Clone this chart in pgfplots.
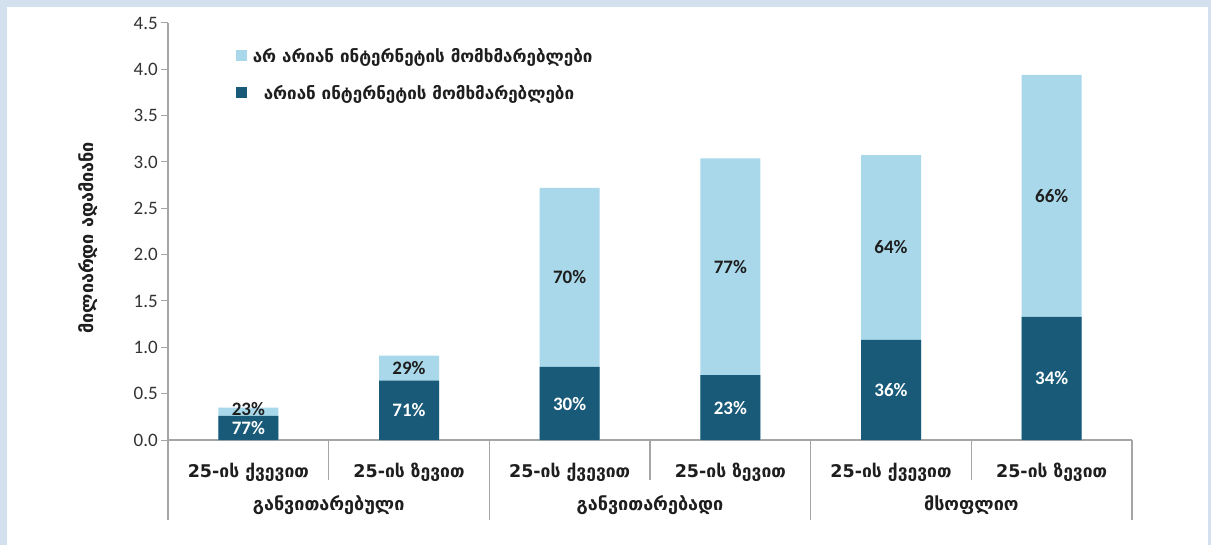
\documentclass[border=0pt]{standalone}
\usepackage{pgfplots}
\pgfplotsset{compat=1.18}
\usepackage{fontspec}
\setmainfont{Carlito}
\newfontfamily\geo{DejaVu Sans}
\definecolor{bgblue}{RGB}{211,224,238}
\definecolor{lightbar}{RGB}{168,216,234}
\definecolor{darkbar}{RGB}{24,90,120}
\definecolor{axisgrey}{RGB}{165,165,165}
\definecolor{txt}{RGB}{30,30,30}
\begin{document}
\begin{tikzpicture}
\fill[bgblue] (0,0) rectangle (1211bp,545bp);
\fill[white] (7bp,0) rectangle (1208bp,538bp);
\begin{axis}[
  at={(168bp,105bp)}, anchor=south west,
  scale only axis, width=964bp, height=417bp,
  xmin=-0.5, xmax=5.5, ymin=0, ymax=4.5,
  axis x line*=bottom, axis y line*=left,
  axis line style={axisgrey, line width=1.3bp},
  ytick={0,0.5,...,4.5},
  yticklabel style={/pgf/number format/fixed, /pgf/number format/precision=1, /pgf/number format/fixed zerofill, font=\fontsize{19bp}{22bp}\selectfont, text=black!80, inner xsep=3bp},
  /pgf/number format/assume math mode=true,
  ytick style={axisgrey, line width=1bp},
  tick align=outside, major tick length=7bp,
  xtick={0,1,2,3,4,5},
  xtick style={draw=none},
  xticklabels={25-ის ქვევით,25-ის ზევით,25-ის ქვევით,25-ის ზევით,25-ის ქვევით,25-ის ზევით},
  xticklabel style={font=\geo\bfseries\fontsize{17.5bp}{20bp}\selectfont, anchor=base, yshift=-30bp, text=txt},
  ylabel={მილიარდი ადამიანი},
  ylabel style={font=\geo\bfseries\fontsize{18bp}{20bp}\selectfont, at={(axis description cs:-0.083,0.485)}, anchor=center, text=txt},
  bar width=60bp,
  legend style={at={(0.067,0.95)}, anchor=north west, draw=none, fill=none,
    font=\geo\bfseries\fontsize{17bp}{20bp}\selectfont, text=txt, row sep=18bp,
    /tikz/every odd column/.append style={column sep=4bp}},
  legend cell align=left,
  clip=false,
]
\addplot[ybar, bar shift=0pt, fill=lightbar, draw=none,
  legend image code/.code={\fill[lightbar] (0bp,-5bp) rectangle (11bp,6bp);}]
  coordinates {(0,0.35) (1,0.91) (2,2.72) (3,3.04) (4,3.075) (5,3.94)};
\addlegendentry{არ არიან ინტერნეტის მომხმარებლები}
\addplot[ybar, bar shift=0pt, fill=darkbar, draw=none,
  legend image code/.code={\fill[darkbar] (0bp,-5bp) rectangle (11bp,6bp);}]
  coordinates {(0,0.26) (1,0.64) (2,0.79) (3,0.70) (4,1.08) (5,1.33)};
\addlegendentry{\hspace{11bp}არიან ინტერნეტის მომხმარებლები}
% labels, dark segments
\addplot[draw=none, mark=none, forget plot, nodes near coords, point meta=explicit symbolic,
  nodes near coords style={anchor=center, text=white, font=\bfseries\fontsize{19bp}{22bp}\selectfont}]
  coordinates {(0,0.13)[77\%] (1,0.32)[71\%] (2,0.39)[30\%] (3,0.35)[23\%] (4,0.54)[36\%] (5,0.665)[34\%]};
% labels, light segments
\addplot[draw=none, mark=none, forget plot, nodes near coords, point meta=explicit symbolic,
  nodes near coords style={anchor=center, text=txt, font=\bfseries\fontsize{19bp}{22bp}\selectfont}]
  coordinates {(0,0.33)[23\%] (1,0.775)[29\%] (2,1.755)[70\%] (3,1.87)[77\%] (4,2.08)[64\%] (5,2.635)[66\%]};
% separators
\draw[axisgrey, line width=1.3bp] (axis cs:-0.5,0) -- ([yshift=-80bp]axis cs:-0.5,0);
\draw[axisgrey, line width=1.3bp] (axis cs:1.5,0) -- ([yshift=-80bp]axis cs:1.5,0);
\draw[axisgrey, line width=1.3bp] (axis cs:3.5,0) -- ([yshift=-80bp]axis cs:3.5,0);
\draw[axisgrey, line width=1.3bp] (axis cs:5.5,0) -- ([yshift=-80bp]axis cs:5.5,0);
\draw[axisgrey, line width=1.3bp] (axis cs:0.5,0) -- ([yshift=-40bp]axis cs:0.5,0);
\draw[axisgrey, line width=1.3bp] (axis cs:2.5,0) -- ([yshift=-40bp]axis cs:2.5,0);
\draw[axisgrey, line width=1.3bp] (axis cs:4.5,0) -- ([yshift=-40bp]axis cs:4.5,0);
\node[anchor=base, font=\geo\bfseries\fontsize{18bp}{20bp}\selectfont, text=txt] at ([yshift=-70bp]axis cs:0.5,0) {განვითარებული};
\node[anchor=base, font=\geo\bfseries\fontsize{18bp}{20bp}\selectfont, text=txt] at ([yshift=-70bp]axis cs:2.5,0) {განვითარებადი};
\node[anchor=base, font=\geo\bfseries\fontsize{18bp}{20bp}\selectfont, text=txt] at ([yshift=-70bp]axis cs:4.5,0) {მსოფლიო};
\end{axis}
\end{tikzpicture}
\end{document}
